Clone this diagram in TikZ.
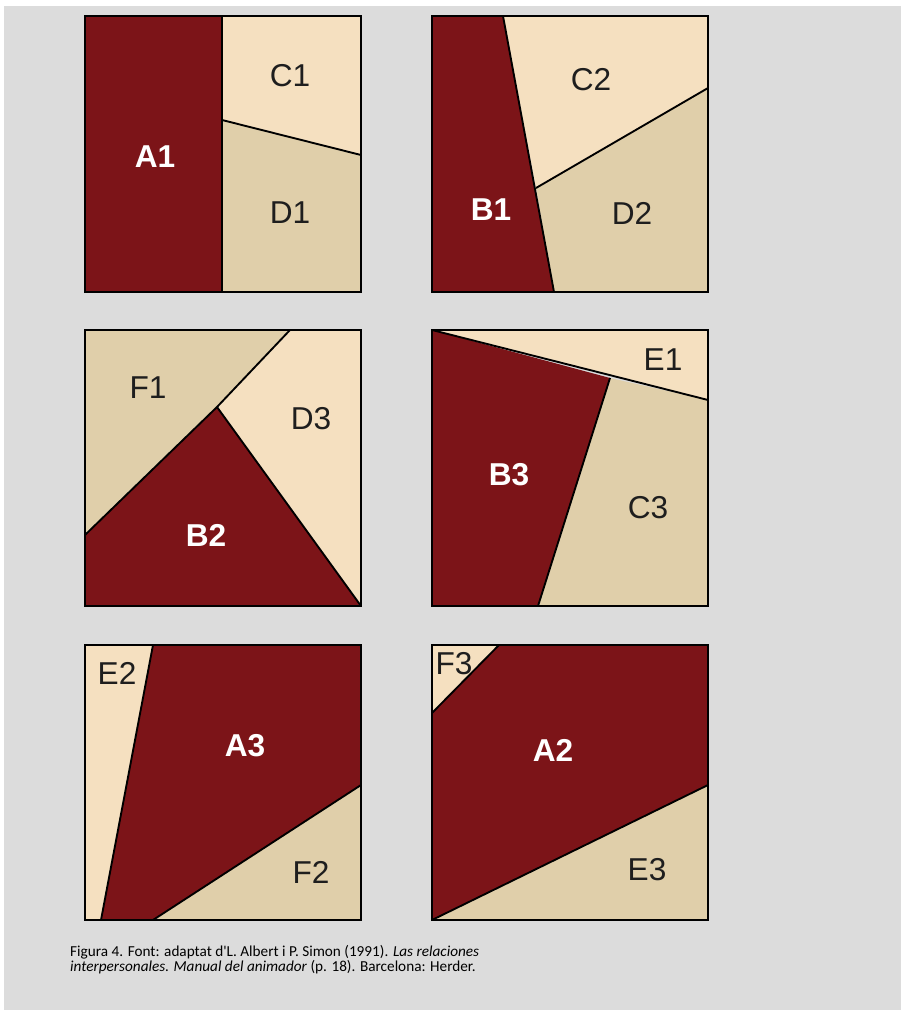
\documentclass[tikz,border=0pt]{standalone}
\usepackage{fontspec}
\setmainfont{Liberation Sans}
\newfontfamily\capfont{Carlito}
\usetikzlibrary{positioning}

\definecolor{wine}{RGB}{124,20,24}
\definecolor{cream}{RGB}{245,224,192}
\definecolor{sand}{RGB}{224,207,170}
\definecolor{panelgray}{RGB}{220,220,220}
\definecolor{labelgray}{RGB}{30,30,30}

\begin{document}
\begin{tikzpicture}[x=0.03cm,y=-0.03cm,
  piece/.style={draw=black,line width=1.6pt,line join=round},
  frame/.style={draw=black,line width=1.9pt},
  lbl/.style={font=\fontsize{27}{27}\selectfont,text=labelgray,inner sep=0pt},
  lblw/.style={lbl,font=\fontsize{27}{27}\selectfont\bfseries,text=white}]
\useasboundingbox (0,0) rectangle (901,1010);
\fill[panelgray] (4,6) rectangle (901,1010);

% row 1
\fill[wine] (85,16) rectangle (222,292);
\fill[cream] (222,16) -- (361,16) -- (361,155) -- (222,120) -- cycle;
\fill[sand] (222,120) -- (361,155) -- (361,292) -- (222,292) -- cycle;
\draw[piece] (222,16) -- (222,292);
\draw[piece] (222,120) -- (361,155);
\draw[frame] (85,16) rectangle (361,292);
\node[lblw] (a1) at (155,157) {A1};
\node[lbl] (c1) at (290,76) {C1};
\node[lbl] (d1) at (290,213) {D1};

\fill[wine] (432,16) -- (503,16) -- (554,292) -- (432,292) -- cycle;
\fill[cream] (503,16) -- (708,16) -- (708,88) -- (536,188) -- cycle;
\fill[sand] (536,188) -- (708,88) -- (708,292) -- (554,292) -- cycle;
\draw[piece] (503,16) -- (554,292);
\draw[piece] (536,188) -- (708,88);
\draw[frame] (432,16) rectangle (708,292);
\node[lblw] (b1) at (491,210) {B1};
\node[lbl] (c2) at (591,80) {C2};
\node[lbl] (d2) at (632,213) {D2};

% row 2
\fill[sand] (85,330) -- (290,330) -- (217,407) -- (85,535) -- cycle;
\fill[cream] (290,330) -- (361,330) -- (361,606) -- (217,407) -- cycle;
\fill[wine] (85,535) -- (217,407) -- (361,606) -- (85,606) -- cycle;
\draw[piece] (290,330) -- (217,407) -- (85,535);
\draw[piece] (217,407) -- (361,606);
\draw[frame] (85,330) rectangle (361,606);
\node[lbl] (f1) at (148,388) {F1};
\node[lbl] (d3) at (311,419) {D3};
\node[lblw] (b2) at (206,535) {B2};

\fill[cream] (432,330) -- (708,330) -- (708,400) -- cycle;
\fill[wine] (432,330) -- (610,378) -- (538,606) -- (432,606) -- cycle;
\fill[sand] (610,378) -- (708,400) -- (708,606) -- (538,606) -- cycle;
\draw[piece] (432,330) -- (708,400);
\draw[piece] (610,378) -- (538,606);
\draw[frame] (432,330) rectangle (708,606);
\node[lbl] (e1) at (663,360) {E1};
\node[lblw] (b3) at (509,475) {B3};
\node[lbl] (c3) at (648,508) {C3};

% row 3
\fill[cream] (85,645) -- (153,645) -- (101,920) -- (85,920) -- cycle;
\fill[wine] (153,645) -- (361,645) -- (361,785) -- (153,920) -- (101,920) -- cycle;
\fill[sand] (361,785) -- (361,920) -- (153,920) -- cycle;
\draw[piece] (153,645) -- (101,920);
\draw[piece] (361,785) -- (153,920);
\draw[frame] (85,645) rectangle (361,920);
\node[lbl] (e2) at (117,673) {E2};
\node[lblw] (a3) at (245,746) {A3};
\node[lbl] (f2) at (311,872) {F2};

\fill[cream] (432,645) -- (499,645) -- (432,713) -- cycle;
\fill[wine] (499,645) -- (708,645) -- (708,785) -- (432,920) -- (432,713) -- cycle;
\fill[sand] (708,785) -- (708,920) -- (432,920) -- cycle;
\draw[piece] (499,645) -- (432,713);
\draw[piece] (708,785) -- (432,920);
\draw[frame] (432,645) rectangle (708,920);
\node[lbl] (f3) at (454,664) {F3};
\node[lblw] (a2) at (553,750) {A2};
\node[lbl] (e3) at (647,870) {E3};

% caption
\node[anchor=north west,align=left,inner sep=0pt,font=\capfont\fontsize{13}{12.5}\selectfont] (caption) at (70,945)
  {Figura 4. Font: adaptat d'L. Albert i P. Simon (1991). \textit{Las relaciones}\\
   \textit{interpersonales. Manual del animador} (p. 18). Barcelona: Herder.};
\end{tikzpicture}
\end{document}
